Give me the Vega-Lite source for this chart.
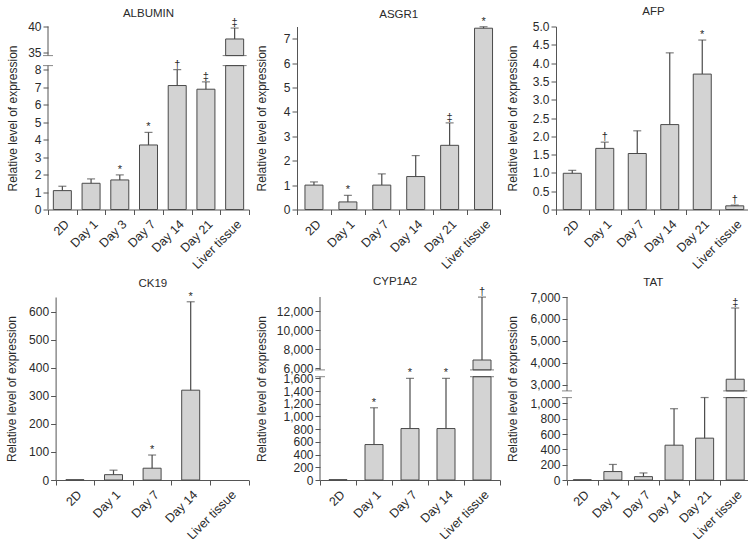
{
  "$schema": "https://vega.github.io/schema/vega-lite/v6.json",
  "padding": {"left": 5, "top": 5.5, "right": 0, "bottom": 2},
  "columns": 1,
  "align": "none",
  "spacing": 4.5,
  "config": {
    "font": "Liberation Sans",
    "view": {"stroke": null},
    "axis": {"labelFont": "Liberation Sans", "labelFontSize": 12, "labelColor": "#2a2a2a", "titleFont": "Liberation Sans", "titleFontSize": 12, "titleFontWeight": "normal", "titleColor": "#2a2a2a", "domainColor": "#555555", "tickColor": "#555555", "tickSize": 5, "labelPadding": 2, "grid": false},
    "axisY": {"labelOverlap": false},
    "axisX": {"labelFontSize": 12.5, "labelAngle": -45, "labelAlign": "right", "labelBaseline": "top", "tickBand": "extent", "labelPadding": 3, "labelOverlap": false},
    "title": {"font": "Liberation Sans", "fontSize": 11.5, "fontWeight": "normal", "color": "#2a2a2a", "baseline": "alphabetic", "frame": "group"},
    "text": {"font": "Liberation Sans"}
  },
  "datasets": {
    "bars": [
      {"gene": "ALBUMIN", "cat": "2D", "lo": 0, "hi": 1.08},
      {"gene": "ALBUMIN", "cat": "Day 1", "lo": 0, "hi": 1.5},
      {"gene": "ALBUMIN", "cat": "Day 3", "lo": 0, "hi": 1.69},
      {"gene": "ALBUMIN", "cat": "Day 7", "lo": 0, "hi": 3.69},
      {"gene": "ALBUMIN", "cat": "Day 14", "lo": 0, "hi": 7.09},
      {"gene": "ALBUMIN", "cat": "Day 21", "lo": 0, "hi": 6.88},
      {"gene": "ALBUMIN", "cat": "Liver tissue", "lo": 0, "hi": 8.23},
      {"gene": "ALBUMIN", "cat": "Liver tissue", "lo": 34.4, "hi": 37.6},
      {"gene": "ASGR1", "cat": "2D", "lo": 0, "hi": 1.0},
      {"gene": "ASGR1", "cat": "Day 1", "lo": 0, "hi": 0.31},
      {"gene": "ASGR1", "cat": "Day 7", "lo": 0, "hi": 1.0},
      {"gene": "ASGR1", "cat": "Day 14", "lo": 0, "hi": 1.35},
      {"gene": "ASGR1", "cat": "Day 21", "lo": 0, "hi": 2.63},
      {"gene": "ASGR1", "cat": "Liver tissue", "lo": 0, "hi": 7.43},
      {"gene": "AFP", "cat": "2D", "lo": 0, "hi": 0.99},
      {"gene": "AFP", "cat": "Day 1", "lo": 0, "hi": 1.67},
      {"gene": "AFP", "cat": "Day 7", "lo": 0, "hi": 1.53},
      {"gene": "AFP", "cat": "Day 14", "lo": 0, "hi": 2.32},
      {"gene": "AFP", "cat": "Day 21", "lo": 0, "hi": 3.7},
      {"gene": "AFP", "cat": "Liver tissue", "lo": 0, "hi": 0.1},
      {"gene": "CK19", "cat": "2D", "lo": 0, "hi": 1},
      {"gene": "CK19", "cat": "Day 1", "lo": 0, "hi": 19},
      {"gene": "CK19", "cat": "Day 7", "lo": 0, "hi": 42},
      {"gene": "CK19", "cat": "Day 14", "lo": 0, "hi": 320},
      {"gene": "CYP1A2", "cat": "2D", "lo": 0, "hi": 5},
      {"gene": "CYP1A2", "cat": "Day 1", "lo": 0, "hi": 558},
      {"gene": "CYP1A2", "cat": "Day 7", "lo": 0, "hi": 810},
      {"gene": "CYP1A2", "cat": "Day 14", "lo": 0, "hi": 810},
      {"gene": "CYP1A2", "cat": "Liver tissue", "lo": 0, "hi": 1626},
      {"gene": "CYP1A2", "cat": "Liver tissue", "lo": 5830, "hi": 6870},
      {"gene": "TAT", "cat": "2D", "lo": 0, "hi": 3},
      {"gene": "TAT", "cat": "Day 1", "lo": 0, "hi": 110},
      {"gene": "TAT", "cat": "Day 7", "lo": 0, "hi": 44},
      {"gene": "TAT", "cat": "Day 14", "lo": 0, "hi": 454},
      {"gene": "TAT", "cat": "Day 21", "lo": 0, "hi": 546},
      {"gene": "TAT", "cat": "Liver tissue", "lo": 0, "hi": 1075},
      {"gene": "TAT", "cat": "Liver tissue", "lo": 2730, "hi": 3260}
    ],
    "stats": [
      {"gene": "ALBUMIN", "cat": "2D", "mean": 1.08, "upper": 1.33, "sym": ""},
      {"gene": "ALBUMIN", "cat": "Day 1", "mean": 1.5, "upper": 1.75, "sym": ""},
      {"gene": "ALBUMIN", "cat": "Day 3", "mean": 1.69, "upper": 1.98, "sym": "*"},
      {"gene": "ALBUMIN", "cat": "Day 7", "mean": 3.69, "upper": 4.41, "sym": "*"},
      {"gene": "ALBUMIN", "cat": "Day 14", "mean": 7.09, "upper": 8.0, "sym": "†"},
      {"gene": "ALBUMIN", "cat": "Day 21", "mean": 6.88, "upper": 7.3, "sym": "‡"},
      {"gene": "ALBUMIN", "cat": "Liver tissue", "mean": 37.6, "upper": 39.7, "sym": "‡"},
      {"gene": "ASGR1", "cat": "2D", "mean": 1.0, "upper": 1.13, "sym": ""},
      {"gene": "ASGR1", "cat": "Day 1", "mean": 0.31, "upper": 0.58, "sym": "*"},
      {"gene": "ASGR1", "cat": "Day 7", "mean": 1.0, "upper": 1.46, "sym": ""},
      {"gene": "ASGR1", "cat": "Day 14", "mean": 1.35, "upper": 2.21, "sym": ""},
      {"gene": "ASGR1", "cat": "Day 21", "mean": 2.63, "upper": 3.55, "sym": "‡"},
      {"gene": "ASGR1", "cat": "Liver tissue", "mean": 7.43, "upper": 7.49, "sym": "*"},
      {"gene": "AFP", "cat": "2D", "mean": 0.99, "upper": 1.07, "sym": ""},
      {"gene": "AFP", "cat": "Day 1", "mean": 1.67, "upper": 1.84, "sym": "†"},
      {"gene": "AFP", "cat": "Day 7", "mean": 1.53, "upper": 2.15, "sym": ""},
      {"gene": "AFP", "cat": "Day 14", "mean": 2.32, "upper": 4.28, "sym": ""},
      {"gene": "AFP", "cat": "Day 21", "mean": 3.7, "upper": 4.63, "sym": "*"},
      {"gene": "AFP", "cat": "Liver tissue", "mean": 0.1, "upper": 0.12, "sym": "†"},
      {"gene": "CK19", "cat": "Day 1", "mean": 19, "upper": 35, "sym": ""},
      {"gene": "CK19", "cat": "Day 7", "mean": 42, "upper": 89, "sym": "*"},
      {"gene": "CK19", "cat": "Day 14", "mean": 320, "upper": 635, "sym": "*"},
      {"gene": "CYP1A2", "cat": "Day 1", "mean": 558, "upper": 1137, "sym": "*"},
      {"gene": "CYP1A2", "cat": "Day 7", "mean": 810, "upper": 1600, "sym": "*"},
      {"gene": "CYP1A2", "cat": "Day 14", "mean": 810, "upper": 1600, "sym": "*"},
      {"gene": "CYP1A2", "cat": "Liver tissue", "mean": 6870, "upper": 13490, "sym": "†"},
      {"gene": "TAT", "cat": "Day 1", "mean": 110, "upper": 203, "sym": ""},
      {"gene": "TAT", "cat": "Day 7", "mean": 44, "upper": 92, "sym": ""},
      {"gene": "TAT", "cat": "Day 14", "mean": 454, "upper": 930, "sym": ""},
      {"gene": "TAT", "cat": "Day 21", "mean": 546, "upper": 1092, "sym": ""},
      {"gene": "TAT", "cat": "Liver tissue", "mean": 3260, "upper": 6500, "sym": "‡"}
    ],
    "axisseg": [
      {"gene": "ALBUMIN", "y0": 0, "y1": 8.23},
      {"gene": "ALBUMIN", "y0": 34.4, "y1": 40},
      {"gene": "CYP1A2", "y0": 0, "y1": 1626},
      {"gene": "CYP1A2", "y0": 5830, "y1": 13500},
      {"gene": "TAT", "y0": 0, "y1": 1075},
      {"gene": "TAT", "y0": 2730, "y1": 7000}
    ],
    "breaks": [
      {"gene": "ALBUMIN", "cat": "Liver tissue", "v": 8.23},
      {"gene": "ALBUMIN", "cat": "Liver tissue", "v": 34.4},
      {"gene": "CYP1A2", "cat": "Liver tissue", "v": 1626},
      {"gene": "CYP1A2", "cat": "Liver tissue", "v": 5830},
      {"gene": "TAT", "cat": "Liver tissue", "v": 1075},
      {"gene": "TAT", "cat": "Liver tissue", "v": 2730}
    ]
  },
  "concat": [
    {
      "hconcat": [
        {
          "title": {"text": "ALBUMIN", "frame": "group", "offset": -2.5}, "width": 201, "height": 183,
          "resolve": {"scale": {"x": "independent"}},
          "layer": [
            {"layer": [
              {"data": {"name": "bars"}, "transform": [{"filter": "datum.gene === 'ALBUMIN'"}],
               "mark": {"type": "bar", "size": 18, "fill": "#d3d3d3", "stroke": "#4a4a4a", "strokeWidth": 1},
               "encoding": {
                 "x": {"field": "cat", "type": "nominal", "sort": null, "scale": {"domain": ["2D", "Day 1", "Day 3", "Day 7", "Day 14", "Day 21", "Liver tissue"], "paddingInner": 0, "paddingOuter": 0}, "axis": {"title": null}},
                 "y": {"field": "lo", "type": "quantitative", "scale": {"domain": [0, 8.23, 34.4, 40], "range": [183, 39.1, 29.1, 0], "nice": false, "zero": false}, "axis": {"title": "Relative level of expression", "values": [0, 1, 2, 3, 4, 5, 6, 7, 8, 35, 40], "tickCount": 100, "format": "d", "domain": false, "titlePadding": 8.1}},
                 "y2": {"field": "hi"}
               }},
              {"data": {"name": "stats"}, "transform": [{"filter": "datum.gene === 'ALBUMIN'"}],
               "mark": {"type": "rule", "color": "#4a4a4a", "strokeWidth": 1.2},
               "encoding": {"x": {"field": "cat", "type": "nominal"}, "y": {"field": "mean", "type": "quantitative"}, "y2": {"field": "upper"}}},
              {"data": {"name": "stats"}, "transform": [{"filter": "datum.gene === 'ALBUMIN'"}],
               "mark": {"type": "tick", "orient": "horizontal", "size": 8, "thickness": 1.2, "color": "#4a4a4a"},
               "encoding": {"x": {"field": "cat", "type": "nominal"}, "y": {"field": "upper", "type": "quantitative"}}},
              {"data": {"name": "stats"}, "transform": [{"filter": "datum.gene === 'ALBUMIN' && datum.sym"}],
               "mark": {"type": "text", "baseline": "alphabetic", "dy": -2, "fontSize": 11, "color": "#2a2a2a"},
               "encoding": {"x": {"field": "cat", "type": "nominal"}, "y": {"field": "upper", "type": "quantitative"}, "text": {"field": "sym"}}},
              {"data": {"name": "breaks"}, "transform": [{"filter": "datum.gene === 'ALBUMIN'"}],
               "mark": {"type": "tick", "orient": "horizontal", "size": 24, "thickness": 1, "color": "#4a4a4a"},
               "encoding": {"x": {"field": "cat", "type": "nominal"}, "y": {"field": "v", "type": "quantitative"}}}
            ]},
            {"layer": [
              {"data": {"name": "axisseg"}, "transform": [{"filter": "datum.gene === 'ALBUMIN'"}],
               "mark": {"type": "rule", "color": "#555555", "strokeWidth": 1},
               "encoding": {"x": {"datum": 0, "type": "quantitative", "scale": {"domain": [0, 1], "nice": false, "zero": false}, "axis": null}, "y": {"field": "y0", "type": "quantitative"}, "y2": {"field": "y1"}}},
              {"data": {"name": "breaks"}, "transform": [{"filter": "datum.gene === 'ALBUMIN'"}],
               "mark": {"type": "tick", "orient": "horizontal", "size": 10, "thickness": 1, "color": "#555555"},
               "encoding": {"x": {"datum": 0, "type": "quantitative", "axis": null}, "y": {"field": "v", "type": "quantitative"}}}
            ]}
          ]
        },
        {
          "title": {"text": "ASGR1", "frame": "group", "offset": -4.5}, "width": 203.5, "height": 183,
          "layer": [
            {"data": {"name": "bars"}, "transform": [{"filter": "datum.gene === 'ASGR1'"}],
             "mark": {"type": "bar", "size": 18, "fill": "#d3d3d3", "stroke": "#4a4a4a", "strokeWidth": 1},
             "encoding": {
               "x": {"field": "cat", "type": "nominal", "sort": null, "scale": {"domain": ["2D", "Day 1", "Day 7", "Day 14", "Day 21", "Liver tissue"], "paddingInner": 0, "paddingOuter": 0}, "axis": {"title": null}},
               "y": {"field": "lo", "type": "quantitative", "scale": {"domain": [0, 7.5], "nice": false, "zero": false}, "axis": {"title": "Relative level of expression", "values": [0, 1, 2, 3, 4, 5, 6, 7], "tickCount": 100, "format": "d", "titlePadding": 14.6}},
               "y2": {"field": "hi"}
             }},
            {"data": {"name": "stats"}, "transform": [{"filter": "datum.gene === 'ASGR1'"}],
             "mark": {"type": "rule", "color": "#4a4a4a", "strokeWidth": 1.2},
             "encoding": {"x": {"field": "cat", "type": "nominal"}, "y": {"field": "mean", "type": "quantitative"}, "y2": {"field": "upper"}}},
            {"data": {"name": "stats"}, "transform": [{"filter": "datum.gene === 'ASGR1'"}],
             "mark": {"type": "tick", "orient": "horizontal", "size": 8, "thickness": 1.2, "color": "#4a4a4a"},
             "encoding": {"x": {"field": "cat", "type": "nominal"}, "y": {"field": "upper", "type": "quantitative"}}},
            {"data": {"name": "stats"}, "transform": [{"filter": "datum.gene === 'ASGR1' && datum.sym"}],
             "mark": {"type": "text", "baseline": "alphabetic", "dy": -2, "fontSize": 11, "color": "#2a2a2a"},
             "encoding": {"x": {"field": "cat", "type": "nominal"}, "y": {"field": "upper", "type": "quantitative"}, "text": {"field": "sym"}}}
          ]
        },
        {
          "title": {"text": "AFP", "frame": "group", "offset": 3.5}, "width": 195, "height": 183,
          "layer": [
            {"data": {"name": "bars"}, "transform": [{"filter": "datum.gene === 'AFP'"}],
             "mark": {"type": "bar", "size": 18, "fill": "#d3d3d3", "stroke": "#4a4a4a", "strokeWidth": 1},
             "encoding": {
               "x": {"field": "cat", "type": "nominal", "sort": null, "scale": {"domain": ["2D", "Day 1", "Day 7", "Day 14", "Day 21", "Liver tissue"], "paddingInner": 0, "paddingOuter": 0}, "axis": {"title": null}},
               "y": {"field": "lo", "type": "quantitative", "scale": {"domain": [0, 5], "nice": false, "zero": false}, "axis": {"title": "Relative level of expression", "values": [0, 0.5, 1, 1.5, 2, 2.5, 3, 3.5, 4, 4.5, 5], "tickCount": 100, "labelExpr": "datum.value === 0 ? '0' : format(datum.value, '.1f')", "titlePadding": 12.4}},
               "y2": {"field": "hi"}
             }},
            {"data": {"name": "stats"}, "transform": [{"filter": "datum.gene === 'AFP'"}],
             "mark": {"type": "rule", "color": "#4a4a4a", "strokeWidth": 1.2},
             "encoding": {"x": {"field": "cat", "type": "nominal"}, "y": {"field": "mean", "type": "quantitative"}, "y2": {"field": "upper"}}},
            {"data": {"name": "stats"}, "transform": [{"filter": "datum.gene === 'AFP'"}],
             "mark": {"type": "tick", "orient": "horizontal", "size": 8, "thickness": 1.2, "color": "#4a4a4a"},
             "encoding": {"x": {"field": "cat", "type": "nominal"}, "y": {"field": "upper", "type": "quantitative"}}},
            {"data": {"name": "stats"}, "transform": [{"filter": "datum.gene === 'AFP' && datum.sym"}],
             "mark": {"type": "text", "baseline": "alphabetic", "dy": -2, "fontSize": 11, "color": "#2a2a2a"},
             "encoding": {"x": {"field": "cat", "type": "nominal"}, "y": {"field": "upper", "type": "quantitative"}, "text": {"field": "sym"}}}
          ]
        }
      ],
      "spacing": 5
    },
    {
      "hconcat": [
        {
          "title": {"text": "CK19", "frame": "group", "offset": 1.5, "dx": 4.5}, "width": 200.6, "height": 183,
          "layer": [
            {"data": {"name": "bars"}, "transform": [{"filter": "datum.gene === 'CK19'"}],
             "mark": {"type": "bar", "size": 18, "fill": "#d3d3d3", "stroke": "#4a4a4a", "strokeWidth": 1},
             "encoding": {
               "x": {"field": "cat", "type": "nominal", "sort": null, "scale": {"domain": ["2D", "Day 1", "Day 7", "Day 14", "Liver tissue"], "range": [7.6, 200.6], "paddingInner": 0, "paddingOuter": 0}, "axis": {"title": null}},
               "y": {"field": "lo", "type": "quantitative", "scale": {"domain": [0, 652], "nice": false, "zero": false}, "axis": {"title": "Relative level of expression", "values": [0, 100, 200, 300, 400, 500, 600], "tickCount": 100, "format": ",d", "titlePadding": 9.7, "offset": -7.6}},
               "y2": {"field": "hi"}
             }},
            {"data": {"name": "stats"}, "transform": [{"filter": "datum.gene === 'CK19'"}],
             "mark": {"type": "rule", "color": "#4a4a4a", "strokeWidth": 1.2},
             "encoding": {"x": {"field": "cat", "type": "nominal"}, "y": {"field": "mean", "type": "quantitative"}, "y2": {"field": "upper"}}},
            {"data": {"name": "stats"}, "transform": [{"filter": "datum.gene === 'CK19'"}],
             "mark": {"type": "tick", "orient": "horizontal", "size": 8, "thickness": 1.2, "color": "#4a4a4a"},
             "encoding": {"x": {"field": "cat", "type": "nominal"}, "y": {"field": "upper", "type": "quantitative"}}},
            {"data": {"name": "stats"}, "transform": [{"filter": "datum.gene === 'CK19' && datum.sym"}],
             "mark": {"type": "text", "baseline": "alphabetic", "dy": -2, "fontSize": 11, "color": "#2a2a2a"},
             "encoding": {"x": {"field": "cat", "type": "nominal"}, "y": {"field": "upper", "type": "quantitative"}, "text": {"field": "sym"}}}
          ]
        },
        {
          "title": {"text": "CYP1A2", "frame": "group", "offset": -1.5, "dx": -15}, "width": 180, "height": 183,
          "resolve": {"scale": {"x": "independent"}},
          "layer": [
            {"layer": [
              {"data": {"name": "bars"}, "transform": [{"filter": "datum.gene === 'CYP1A2'"}],
               "mark": {"type": "bar", "size": 18, "fill": "#d3d3d3", "stroke": "#4a4a4a", "strokeWidth": 1},
               "encoding": {
                 "x": {"field": "cat", "type": "nominal", "sort": null, "scale": {"domain": ["2D", "Day 1", "Day 7", "Day 14", "Liver tissue"], "paddingInner": 0, "paddingOuter": 0}, "axis": {"title": null}},
                 "y": {"field": "lo", "type": "quantitative", "scale": {"domain": [0, 1626, 5830, 13500], "range": [183, 79.7, 72.9, 0], "nice": false, "zero": false}, "axis": {"title": "Relative level of expression", "values": [0, 200, 400, 600, 800, 1000, 1200, 1400, 1600, 6000, 8000, 10000, 12000], "tickCount": 100, "format": ",d", "domain": false, "titlePadding": 8.1}},
                 "y2": {"field": "hi"}
               }},
              {"data": {"name": "stats"}, "transform": [{"filter": "datum.gene === 'CYP1A2'"}],
               "mark": {"type": "rule", "color": "#4a4a4a", "strokeWidth": 1.2},
               "encoding": {"x": {"field": "cat", "type": "nominal"}, "y": {"field": "mean", "type": "quantitative"}, "y2": {"field": "upper"}}},
              {"data": {"name": "stats"}, "transform": [{"filter": "datum.gene === 'CYP1A2'"}],
               "mark": {"type": "tick", "orient": "horizontal", "size": 8, "thickness": 1.2, "color": "#4a4a4a"},
               "encoding": {"x": {"field": "cat", "type": "nominal"}, "y": {"field": "upper", "type": "quantitative"}}},
              {"data": {"name": "stats"}, "transform": [{"filter": "datum.gene === 'CYP1A2' && datum.sym"}],
               "mark": {"type": "text", "baseline": "alphabetic", "dy": -2, "fontSize": 11, "color": "#2a2a2a"},
               "encoding": {"x": {"field": "cat", "type": "nominal"}, "y": {"field": "upper", "type": "quantitative"}, "text": {"field": "sym"}}},
              {"data": {"name": "breaks"}, "transform": [{"filter": "datum.gene === 'CYP1A2'"}],
               "mark": {"type": "tick", "orient": "horizontal", "size": 24, "thickness": 1, "color": "#4a4a4a"},
               "encoding": {"x": {"field": "cat", "type": "nominal"}, "y": {"field": "v", "type": "quantitative"}}}
            ]},
            {"layer": [
              {"data": {"name": "axisseg"}, "transform": [{"filter": "datum.gene === 'CYP1A2'"}],
               "mark": {"type": "rule", "color": "#555555", "strokeWidth": 1},
               "encoding": {"x": {"datum": 0, "type": "quantitative", "scale": {"domain": [0, 1], "nice": false, "zero": false}, "axis": null}, "y": {"field": "y0", "type": "quantitative"}, "y2": {"field": "y1"}}},
              {"data": {"name": "breaks"}, "transform": [{"filter": "datum.gene === 'CYP1A2'"}],
               "mark": {"type": "tick", "orient": "horizontal", "size": 10, "thickness": 1, "color": "#555555"},
               "encoding": {"x": {"datum": 0, "type": "quantitative", "axis": null}, "y": {"field": "v", "type": "quantitative"}}}
            ]}
          ]
        },
        {
          "title": {"text": "TAT", "frame": "group", "offset": 2.5, "dx": -5.5}, "width": 183.5, "height": 183,
          "resolve": {"scale": {"x": "independent"}},
          "layer": [
            {"layer": [
              {"data": {"name": "bars"}, "transform": [{"filter": "datum.gene === 'TAT'"}],
               "mark": {"type": "bar", "size": 18, "fill": "#d3d3d3", "stroke": "#4a4a4a", "strokeWidth": 1},
               "encoding": {
                 "x": {"field": "cat", "type": "nominal", "sort": null, "scale": {"domain": ["2D", "Day 1", "Day 7", "Day 14", "Day 21", "Liver tissue"], "paddingInner": 0, "paddingOuter": 0}, "axis": {"title": null}},
                 "y": {"field": "lo", "type": "quantitative", "scale": {"domain": [0, 1075, 2730, 7000], "range": [183, 100.6, 93.9, 0], "nice": false, "zero": false}, "axis": {"title": "Relative level of expression", "values": [0, 200, 400, 600, 800, 1000, 3000, 4000, 5000, 6000, 7000], "tickCount": 100, "format": ",d", "domain": false, "titlePadding": 10}},
                 "y2": {"field": "hi"}
               }},
              {"data": {"name": "stats"}, "transform": [{"filter": "datum.gene === 'TAT'"}],
               "mark": {"type": "rule", "color": "#4a4a4a", "strokeWidth": 1.2},
               "encoding": {"x": {"field": "cat", "type": "nominal"}, "y": {"field": "mean", "type": "quantitative"}, "y2": {"field": "upper"}}},
              {"data": {"name": "stats"}, "transform": [{"filter": "datum.gene === 'TAT'"}],
               "mark": {"type": "tick", "orient": "horizontal", "size": 8, "thickness": 1.2, "color": "#4a4a4a"},
               "encoding": {"x": {"field": "cat", "type": "nominal"}, "y": {"field": "upper", "type": "quantitative"}}},
              {"data": {"name": "stats"}, "transform": [{"filter": "datum.gene === 'TAT' && datum.sym"}],
               "mark": {"type": "text", "baseline": "alphabetic", "dy": -2, "fontSize": 11, "color": "#2a2a2a"},
               "encoding": {"x": {"field": "cat", "type": "nominal"}, "y": {"field": "upper", "type": "quantitative"}, "text": {"field": "sym"}}},
              {"data": {"name": "breaks"}, "transform": [{"filter": "datum.gene === 'TAT'"}],
               "mark": {"type": "tick", "orient": "horizontal", "size": 24, "thickness": 1, "color": "#4a4a4a"},
               "encoding": {"x": {"field": "cat", "type": "nominal"}, "y": {"field": "v", "type": "quantitative"}}}
            ]},
            {"layer": [
              {"data": {"name": "axisseg"}, "transform": [{"filter": "datum.gene === 'TAT'"}],
               "mark": {"type": "rule", "color": "#555555", "strokeWidth": 1},
               "encoding": {"x": {"datum": 0, "type": "quantitative", "scale": {"domain": [0, 1], "nice": false, "zero": false}, "axis": null}, "y": {"field": "y0", "type": "quantitative"}, "y2": {"field": "y1"}}},
              {"data": {"name": "breaks"}, "transform": [{"filter": "datum.gene === 'TAT'"}],
               "mark": {"type": "tick", "orient": "horizontal", "size": 10, "thickness": 1, "color": "#555555"},
               "encoding": {"x": {"datum": 0, "type": "quantitative", "axis": null}, "y": {"field": "v", "type": "quantitative"}}}
            ]}
          ]
        }
      ],
      "spacing": 5
    }
  ]
}
